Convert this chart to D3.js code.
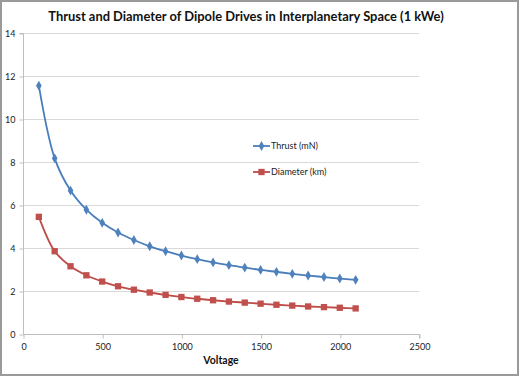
<!DOCTYPE html>
<html><head><meta charset="utf-8">
<script src="https://cdn.jsdelivr.net/npm/d3@7"></script>
<style>body{margin:0;background:#fff}svg{display:block}</style>
</head><body>
<svg id="c" width="520" height="377"></svg>
<script>
const voltage = [100,200,300,400,500,600,700,800,900,1000,1100,1200,1300,1400,1500,1600,1700,1800,1900,2000,2100];
const thrust = [11.55,8.17,6.67,5.78,5.17,4.72,4.37,4.08,3.85,3.65,3.48,3.33,3.20,3.09,2.98,2.89,2.80,2.72,2.65,2.58,2.52];
const diameter = [5.45,3.85,3.15,2.73,2.44,2.22,2.06,1.93,1.82,1.72,1.64,1.57,1.51,1.46,1.41,1.36,1.32,1.28,1.25,1.22,1.19];
const xTicks = [0,500,1000,1500,2000,2500];
const yTicks = [0,2,4,6,8,10,12,14];
const seriesNames = ["Thrust (mN)","Diameter (km)"];

const svg = d3.select("#c");
const font = "Lato, 'Open Sans', sans-serif";
svg.append("rect").attr("x",1).attr("y",1).attr("width",517).attr("height",374)
  .attr("fill","#fff").attr("stroke","#9a9a9a").attr("stroke-width",2);

const x = d3.scaleLinear().domain([0,2500]).range([23,419]);
const y = d3.scaleLinear().domain([0,14]).range([334,33]);

// gridlines
svg.append("g").selectAll("line").data(yTicks.filter(d=>d>0)).join("line")
  .attr("x1",x(0)).attr("x2",x(2500)).attr("y1",d=>y(d)+0.5).attr("y2",d=>y(d)+0.5)
  .attr("stroke","#d9d9d9").attr("stroke-width",1);

// y axis
const ya = svg.append("g").attr("transform",`translate(${x(0)+0.5},0.5)`)
  .call(d3.axisLeft(y).tickValues(yTicks).tickSize(4).tickPadding(4));
ya.select(".domain").attr("stroke","#bfbfbf").attr("d",`M-4,${y(14)}H0V${y(0)}`);
ya.selectAll(".tick line").attr("stroke","#bfbfbf");
ya.selectAll("text").attr("font-family",font).attr("font-size",9).attr("fill","#222");

// x axis
const xa = svg.append("g").attr("transform",`translate(0.5,${y(0)+0.5})`)
  .call(d3.axisBottom(x).tickValues(xTicks).tickSize(4).tickPadding(5).tickFormat(d3.format("d")));
xa.select(".domain").attr("stroke","#bfbfbf").attr("d",`M${x(0)},0H${x(2500)}V4`);
xa.selectAll(".tick line").attr("stroke","#bfbfbf");
xa.selectAll("text").attr("font-family",font).attr("font-size",9).attr("fill","#222");

// title
svg.append("text").attr("x",246).attr("y",21).attr("text-anchor","middle")
  .attr("font-family",font).attr("font-weight","bold").attr("font-size",12.9).attr("fill","#111")
  .text("Thrust and Diameter of Dipole Drives in Interplanetary Space (1 kWe)");
svg.append("text").attr("x",221).attr("y",364).attr("text-anchor","middle")
  .attr("font-family",font).attr("font-weight","bold").attr("font-size",10.5).attr("fill","#111")
  .text("Voltage");

const line = d3.line().x(d=>x(d[0])).y(d=>y(d[1])).curve(d3.curveCatmullRom.alpha(0.5));
const tData = voltage.map((v,i)=>[v,thrust[i]]);
const dData = voltage.map((v,i)=>[v,diameter[i]]);
const blue = "#4a7ebb", red = "#be4b48";

svg.append("path").datum(tData).attr("d",line).attr("fill","none").attr("stroke",blue).attr("stroke-width",1.8);
svg.append("path").datum(dData).attr("d",line).attr("fill","none").attr("stroke",red).attr("stroke-width",1.8);

const diamond = d3.symbol().type(d3.symbolDiamond).size(28);
const square = d3.symbol().type(d3.symbolSquare).size(40);
svg.append("g").selectAll("path").data(tData).join("path")
  .attr("transform",d=>`translate(${x(d[0])},${y(d[1])})`).attr("d",diamond).attr("fill","#4f81bd");
svg.append("g").selectAll("path").data(dData).join("path")
  .attr("transform",d=>`translate(${x(d[0])},${y(d[1])})`).attr("d",square).attr("fill","#c0504d");

// legend
const lg = [{n:seriesNames[0],c:blue,f:"#4f81bd",s:diamond,y:146},{n:seriesNames[1],c:red,f:"#c0504d",s:square,y:172}];
const g = svg.append("g");
lg.forEach(l=>{
  g.append("line").attr("x1",253).attr("x2",270).attr("y1",l.y).attr("y2",l.y).attr("stroke",l.c).attr("stroke-width",1.8);
  g.append("path").attr("transform",`translate(261.5,${l.y})`).attr("d",l.s).attr("fill",l.f);
  g.append("text").attr("x",271).attr("y",l.y+3).attr("font-family",font).attr("font-size",9).attr("fill","#222").text(l.n);
});
</script>
</body></html>
